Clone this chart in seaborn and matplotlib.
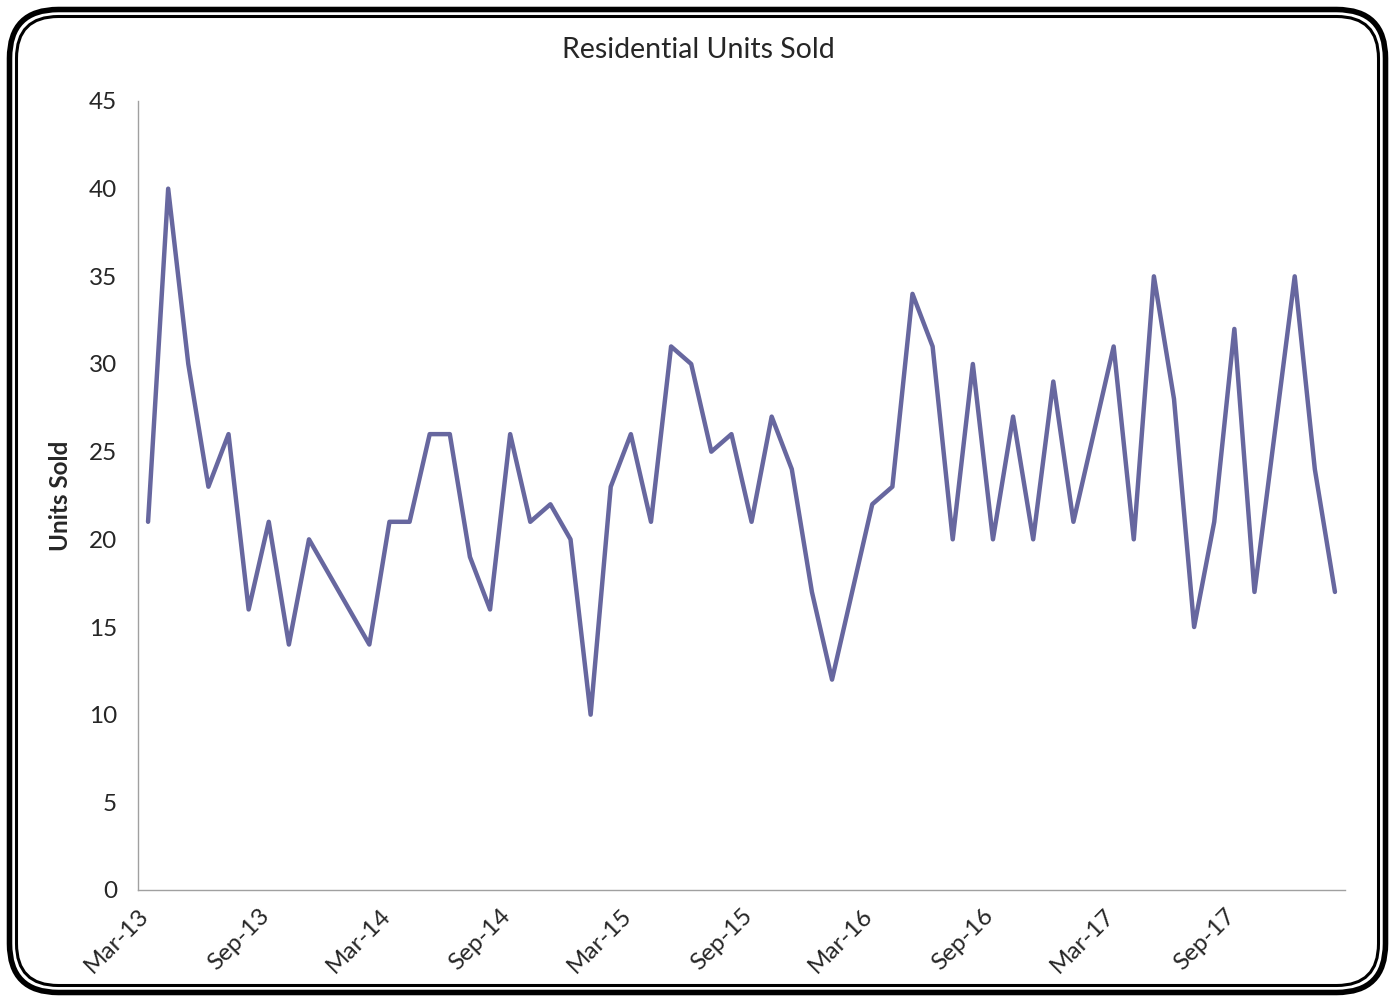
import numpy as np
import pandas as pd
import seaborn as sns
import matplotlib.pyplot as plt
from matplotlib.patches import FancyBboxPatch

# monthly units sold, Mar-13 .. Feb-18
units = [21, 40, 30, 23, 26, 16, 21, 14, 20, 18, 16, 14,
         21, 21, 26, 26, 19, 16, 26, 21, 22, 20, 10, 23,
         26, 21, 31, 30, 25, 26, 21, 27, 24, 17, 12, 17,
         22, 23, 34, 31, 20, 30, 20, 27, 20, 29, 21, 26,
         31, 20, 35, 28, 15, 21, 32, 17, 26, 35, 24, 17]
tick_labels = ['Mar-13', 'Sep-13', 'Mar-14', 'Sep-14', 'Mar-15',
               'Sep-15', 'Mar-16', 'Sep-16', 'Mar-17', 'Sep-17', '']
y_ticks = [0, 5, 10, 15, 20, 25, 30, 35, 40, 45]

df = pd.DataFrame({'month': np.arange(len(units)) + 0.5, 'units': units})

sns.set_style('white')
plt.rcParams['font.family'] = ['Lato', 'DejaVu Sans']

fig = plt.figure(figsize=(13.95, 10.02), dpi=100)
ax = fig.add_axes([138/1395, 1 - 890/1002, (1345-138)/1395, (890-101)/1002])

sns.lineplot(data=df, x='month', y='units', ax=ax, color='#67679f', linewidth=3.2)

ax.set_xlim(0, len(units))
ax.set_ylim(0, 45)
ax.set_yticks(y_ticks)
ax.set_xticks(np.arange(0, len(units) + 1, 6))
ax.set_xticklabels(tick_labels, rotation=45, ha='right', rotation_mode='anchor')
ax.tick_params(axis='both', labelsize=17.5, length=7, width=1, color='#a0a0a0', direction='out')
ax.tick_params(axis='x', pad=4)
ax.tick_params(axis='y', pad=8)
for s in ['top', 'right']:
    ax.spines[s].set_visible(False)
for s in ['left', 'bottom']:
    ax.spines[s].set_color('#a0a0a0')
    ax.spines[s].set_linewidth(1)

ax.set_xlabel('')
ax.set_ylabel('Units Sold', fontsize=17.5, fontweight='bold', labelpad=12)
fig.text(698/1395, 1 - 50/1002, 'Residential Units Sold', ha='center', va='center', fontsize=20.5)

# double rounded border
outer = FancyBboxPatch((9.5/1395, 9.5/1002), (1395-19)/1395, (1002-19)/1002,
                       boxstyle='round,pad=0,rounding_size=0.035', transform=fig.transFigure,
                       fill=False, edgecolor='black', linewidth=4, mutation_aspect=1395/1002)
inner = FancyBboxPatch((16.5/1395, 16.5/1002), (1395-33)/1395, (1002-33)/1002,
                       boxstyle='round,pad=0,rounding_size=0.03', transform=fig.transFigure,
                       fill=False, edgecolor='black', linewidth=2.2, mutation_aspect=1395/1002)
fig.patches.extend([outer, inner])

fig.savefig('out.png', dpi=100)
